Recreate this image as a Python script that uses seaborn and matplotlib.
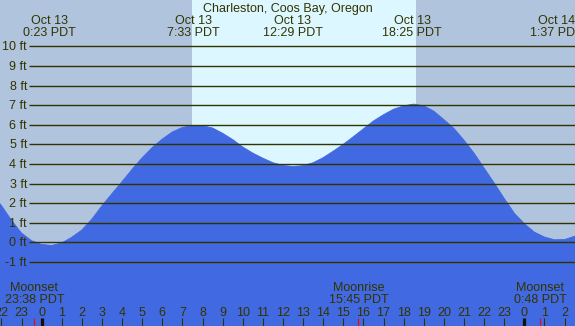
"""
Tide chart - Charleston, Coos Bay, Oregon (Oct 13)
"""

import numpy as np
import pandas as pd
import matplotlib
matplotlib.use("Agg")
import matplotlib.pyplot as plt
import seaborn as sns

# ── Data (hours from midnight Oct 13, heights in ft) ─────────
HOURS = [-2.5, -2.0, -1.5, -1.0, -0.5, 0.0, 0.5, 1.0, 1.5, 2.0, 2.5, 3.0,
         3.5, 4.0, 4.5, 5.0, 5.5, 6.0, 6.5, 7.0, 7.5, 8.0, 8.5, 9.0, 9.5,
         10.0, 10.5, 11.0, 11.5, 12.0, 12.5, 13.0, 13.5, 14.0, 14.5, 15.0,
         15.5, 16.0, 16.5, 17.0, 17.5, 18.0, 18.5, 19.0, 19.5, 20.0, 20.5,
         21.0, 21.5, 22.0, 22.5, 23.0, 23.5, 24.0, 24.5, 25.0, 25.5, 26.0,
         26.5, 27.0]
HEIGHTS = [2.55, 1.88, 1.13, 0.48, 0.09, -0.10, -0.15, -0.02, 0.27, 0.64,
           1.20, 1.88, 2.50, 3.11, 3.74, 4.33, 4.85, 5.28, 5.64, 5.87, 5.96,
           5.96, 5.84, 5.57, 5.25, 4.87, 4.56, 4.30, 4.07, 3.93, 3.88, 3.92,
           4.07, 4.33, 4.66, 5.01, 5.40, 5.80, 6.20, 6.52, 6.80, 6.97, 7.06,
           6.97, 6.70, 6.27, 5.82, 5.22, 4.56, 3.80, 3.04, 2.25, 1.50, 0.96,
           0.53, 0.28, 0.14, 0.15, 0.32, 0.55]

TITLE = "Charleston, Coos Bay, Oregon"
EXT_HOURS = [23 / 60, 7 + 33 / 60, 12 + 29 / 60, 18 + 25 / 60, 25 + 37 / 60]
EXT_DATES = ["Oct 13", "Oct 13", "Oct 13", "Oct 13", "Oct 14"]
EXT_TIMES = ["0:23 PDT", "7:33 PDT", "12:29 PDT", "18:25 PDT", "1:37 PDT"]

MOON_HOURS = [-22 / 60, 15 + 45 / 60, 24 + 48 / 60]
MOON_NAMES = ["Moonset", "Moonrise", "Moonset"]
MOON_TIMES = ["23:38 PDT", "15:45 PDT", "0:48 PDT"]

SUNRISE = 7 + 29 / 60
SUNSET = 18 + 37 / 60

FT_LEVELS = list(range(-1, 11))
HOUR_TICKS = list(range(-2, 27))

# ── Style ───────────────────────────────────────────────────
sns.set_theme(style="white")
plt.rcParams["font.family"] = ["Liberation Sans", "DejaVu Sans"]
plt.rcParams["font.size"] = 9

INK = "#333300"
NIGHT = "#b0c4de"
DAY = "#dcf7ff"
WATER = "#4169e1"

XMIN, XMAX = -2.074, 26.52
YMIN, YMAX = -4.26, 12.37

df = pd.DataFrame({"hour": HOURS, "height": HEIGHTS})

fig = plt.figure(figsize=(5.75, 3.26), dpi=100)
ax = fig.add_axes([0, 0, 1, 1])

# day / night background
ax.axvspan(XMIN, SUNRISE, color=NIGHT, zorder=0, lw=0)
ax.axvspan(SUNRISE, SUNSET, color=DAY, zorder=0, lw=0)
ax.axvspan(SUNSET, XMAX, color=NIGHT, zorder=0, lw=0)

# tide curve
ax.fill_between(df["hour"], YMIN, df["height"], color=WATER, lw=0, zorder=1)
sns.lineplot(data=df, x="hour", y="height", color=WATER, lw=0.6, ax=ax, zorder=1)
ax.set_xlim(XMIN, XMAX)
ax.set_ylim(YMIN, YMAX)
ax.axis("off")

# horizontal ft lines and labels
ax.hlines(FT_LEVELS, -0.63, XMAX, color=INK, lw=1.0, zorder=2)
for ft in FT_LEVELS:
    ax.text(-0.73, ft - 0.2, f"{ft} ft", ha="right", va="baseline",
            color=INK, zorder=3)

# title and high/low labels
ax.text((XMIN + XMAX) / 2, 11.78, TITLE, ha="center", va="baseline",
        color=INK, zorder=3)
for h, d, t in zip(EXT_HOURS, EXT_DATES, EXT_TIMES):
    ax.text(h, 11.15, d, ha="center", va="baseline", color=INK, zorder=3)
    ax.text(h, 10.55, t, ha="center", va="baseline", color=INK, zorder=3)

# hour ticks along the bottom
for h in HOUR_TICKS:
    ax.text(h, -3.73, str(h % 24), ha="center", va="baseline",
            color=INK, zorder=3)
    if h % 24 == 0:
        ax.vlines(h, YMIN, -3.85, color="#111100", lw=2.3, zorder=3)
    else:
        ax.vlines(h, YMIN, -3.85, color=INK, lw=0.8, zorder=3)

# moon events
for h, n, t in zip(MOON_HOURS, MOON_NAMES, MOON_TIMES):
    ax.vlines(h, YMIN, -3.85, color="red", lw=0.8, zorder=3)
    ax.text(h, -2.46, n, ha="center", va="baseline", color=INK, zorder=3)
    ax.text(h, -3.10, t, ha="center", va="baseline", color=INK, zorder=3)

fig.savefig("out.png", dpi=100)
